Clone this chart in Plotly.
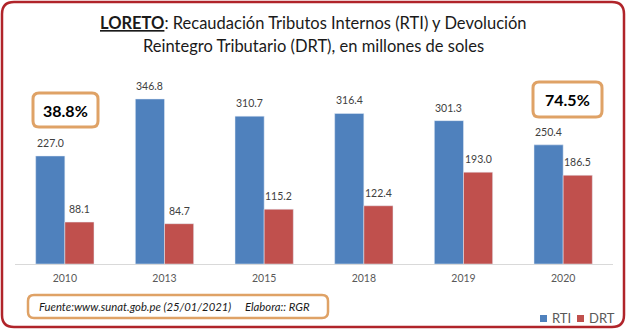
import plotly.graph_objects as go

years = ["2010", "2013", "2015", "2018", "2019", "2020"]
rti = [227.0, 346.8, 310.7, 316.4, 301.3, 250.4]
drt = [88.1, 84.7, 115.2, 122.4, 193.0, 186.5]
series_names = ["RTI", "DRT"]
pct_labels = ["38.8%", "74.5%"]
title_bold = "LORETO"
title_rest1 = ": Recaudación Tributos Internos (RTI) y Devolución"
title_line2 = "Reintegro Tributario (DRT), en millones de soles"
source_text = "Fuente:www.sunat.gob.pe (25/01/2021)"
author_text = "Elabora:: RGR"

W, H = 627, 330
ML, MR, MT, MB = 15, 14, 60, 66
PW = W - ML - MR
PH = H - MT - MB
BLUE = "#4F81BD"
RED = "#C0504D"
FONT = "Lato, Calibri, Arial, sans-serif"
ORANGE = "#DFA266"


def px(x):
    return (x - ML) / PW


def py(y):
    return (H - MB - y) / PH


def rrect(x0, y0, x1, y1, r):
    def P(x, y):
        return f"{px(x)},{py(y)}"
    return (f"M {P(x0 + r, y0)} L {P(x1 - r, y0)} Q {P(x1, y0)} {P(x1, y0 + r)} "
            f"L {P(x1, y1 - r)} Q {P(x1, y1)} {P(x1 - r, y1)} "
            f"L {P(x0 + r, y1)} Q {P(x0, y1)} {P(x0, y1 - r)} "
            f"L {P(x0, y0 + r)} Q {P(x0, y0)} {P(x0 + r, y0)} Z")


fig = go.Figure()
fig.add_trace(go.Bar(x=years, y=rti, name=series_names[0], marker_color=BLUE))
fig.add_trace(go.Bar(x=years, y=drt, name=series_names[1], marker_color=RED))

bargap = 0.415
catw = PW / len(years)
off = catw * (1 - bargap) / 4

annotations = []
for i, v in enumerate(rti):
    annotations.append(dict(x=i, y=v, xref="x", yref="y", text=f"{v:.1f}", showarrow=False,
                            xshift=-off, yshift=13, xanchor="center", yanchor="middle",
                            font=dict(family=FONT, size=10.5, color="#404040")))
for i, v in enumerate(drt):
    annotations.append(dict(x=i, y=v, xref="x", yref="y", text=f"{v:.1f}", showarrow=False,
                            xshift=off, yshift=13, xanchor="center", yanchor="middle",
                            font=dict(family=FONT, size=10.5, color="#404040")))

# title
annotations.append(dict(x=px(313), y=py(23), xref="paper", yref="paper", showarrow=False,
                        text=f"<b><u>{title_bold}</u></b>{title_rest1}", xanchor="center", yanchor="middle",
                        font=dict(family=FONT, size=16.5, color="#1a1a1a")))
annotations.append(dict(x=px(313), y=py(46), xref="paper", yref="paper", showarrow=False,
                        text=title_line2, xanchor="center", yanchor="middle",
                        font=dict(family=FONT, size=16.5, color="#1a1a1a")))

# percentage boxes
shapes = []
boxes = [(33, 93, 98, 127), (533, 82, 602, 117)]
for (x0, y0, x1, y1), lab in zip(boxes, pct_labels):
    shapes.append(dict(type="path", path=rrect(x0, y0, x1, y1, 6), xref="paper", yref="paper",
                       line=dict(color=ORANGE, width=3), fillcolor="white", layer="above"))
    annotations.append(dict(x=px((x0 + x1) / 2), y=py((y0 + y1) / 2), xref="paper", yref="paper",
                            text=f"<b>{lab}</b>", showarrow=False, xanchor="center", yanchor="middle",
                            font=dict(family=FONT, size=16, color="black")))

# footer box
shapes.append(dict(type="path", path=rrect(28, 295, 328, 318, 6), xref="paper", yref="paper",
                   line=dict(color=ORANGE, width=2.5), fillcolor="white", layer="above"))
annotations.append(dict(x=px(37), y=py(306.5), xref="paper", yref="paper", text=f"<i>{source_text}</i>",
                        showarrow=False, xanchor="left", yanchor="middle",
                        font=dict(family=FONT, size=11.3, color="#1a1a1a")))
annotations.append(dict(x=px(243), y=py(306.5), xref="paper", yref="paper", text=f"<i>{author_text}</i>",
                        showarrow=False, xanchor="left", yanchor="middle",
                        font=dict(family=FONT, size=11.3, color="#1a1a1a")))

# manual legend
leg = [(540, BLUE, series_names[0]), (577, RED, series_names[1])]
for x0, col, name in leg:
    shapes.append(dict(type="rect", xref="paper", yref="paper",
                       x0=px(x0), x1=px(x0 + 7), y0=py(322), y1=py(315),
                       line=dict(width=0), fillcolor=col))
    annotations.append(dict(x=px(x0 + 10), y=py(318), xref="paper", yref="paper", text=name,
                            showarrow=False, xanchor="left", yanchor="middle",
                            font=dict(family=FONT, size=13, color="#595959")))

# outer red border
shapes.append(dict(type="path", path=rrect(2, 2, 624, 327, 12), xref="paper", yref="paper",
                   line=dict(color="#B0242A", width=2.5), layer="above"))

fig.update_layout(
    width=W, height=H,
    margin=dict(l=ML, r=MR, t=MT, b=MB, pad=0),
    barmode="group", bargap=bargap, bargroupgap=0,
    plot_bgcolor="white", paper_bgcolor="white",
    showlegend=False,
    shapes=shapes, annotations=annotations,
    xaxis=dict(type="category", range=[-0.5, len(years) - 0.5], showline=True, linecolor="#D9D9D9",
               linewidth=1, ticks="", showgrid=False, ticklabelstandoff=4,
               tickfont=dict(family=FONT, size=10.5, color="#595959"), fixedrange=True),
    yaxis=dict(range=[0, PH / 0.4758], visible=False, showgrid=False, zeroline=False),
)

fig.write_html("out.html")
